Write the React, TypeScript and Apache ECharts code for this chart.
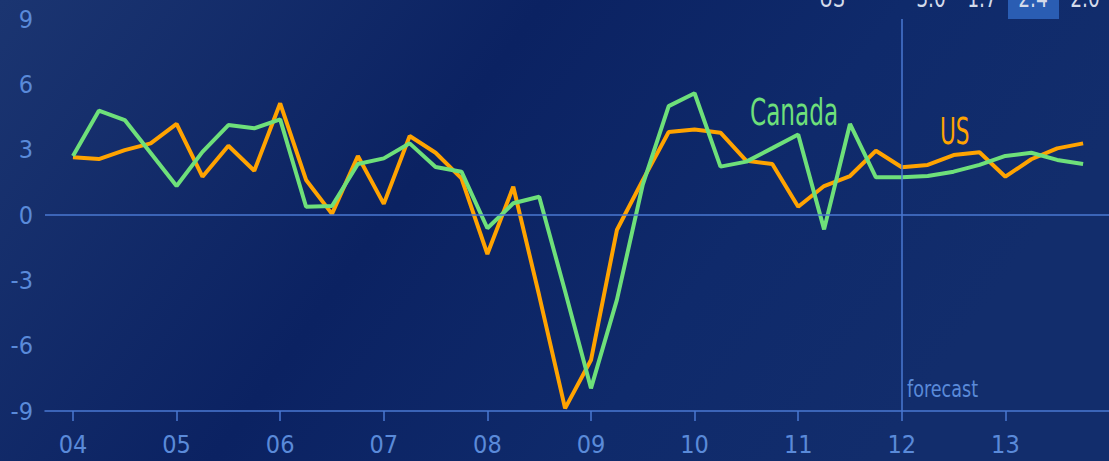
import React, { useEffect, useRef } from "react";
import * as echarts from "echarts";

// Quarterly real GDP growth (% q/q annualized), 2004Q1 .. 2013Q4
const quarters: string[] = [];
for (let y = 2004; y <= 2013; y++) for (let q = 1; q <= 4; q++) quarters.push(`${y}Q${q}`);

const usGrowth = [
  2.65, 2.57, 2.98, 3.29, 4.18, 1.76, 3.18, 2.03, 5.13, 1.61,
  0.05, 2.71, 0.51, 3.63, 2.86, 1.68, -1.79, 1.30, -3.7, -8.88,
  -6.66, -0.69, 1.6, 3.81, 3.93, 3.78, 2.49, 2.34, 0.38, 1.33,
  1.79, 2.95, 2.19, 2.30, 2.75, 2.88, 1.76, 2.56, 3.06, 3.29,
];
const canadaGrowth = [
  2.71, 4.79, 4.36, 2.85, 1.33, 2.9, 4.13, 3.98, 4.39, 0.38,
  0.41, 2.34, 2.6, 3.29, 2.2, 1.99, -0.61, 0.54, 0.84, -3.5,
  -7.96, -3.9, 1.4, 5.0, 5.59, 2.22, 2.45, 3.07, 3.7, -0.66,
  4.18, 1.73, 1.73, 1.79, 1.99, 2.30, 2.71, 2.86, 2.53, 2.34,
];
const yearLabels = ["04", "05", "06", "07", "08", "09", "10", "11", "12", "13"];
const yTicks = [-9, -6, -3, 0, 3, 6, 9];
const forecastStart = "2012Q1";
const tableTexts = ["US", "3.0", "1.7", "2.4", "2.0"];
const seriesNames = ["US", "Canada"];

const FONT = "'Liberation Sans Narrow', 'DejaVu Sans Condensed', 'Roboto', sans-serif";
const AXIS_BLUE = "#4a78d2";
const LABEL_BLUE = "#5a8ad9";
const ORANGE = "#ffa300";
const GREEN = "#6ee07a";

export default function App() {
  const ref = useRef<HTMLDivElement>(null);
  useEffect(() => {
    if (!ref.current) return;
    const chart = echarts.init(ref.current, null, { renderer: "svg" });
    const tickPos = yearLabels.map((_, i) => i * 4);
    const fIdx = quarters.indexOf(forecastStart);
    const tableX = [832, 931, 982, 1033, 1085];
    chart.setOption({
      animation: false,
      backgroundColor: {
        type: "linear", x: 0, y: 0, x2: 1, y2: 0.3,
        colorStops: [
          { offset: 0, color: "#1b3571" },
          { offset: 0.45, color: "#0b2262" },
          { offset: 0.75, color: "#0f2a6b" },
          { offset: 1, color: "#122d6c" },
        ],
      },
      grid: { left: 45, right: 0, top: 19, bottom: 50 },
      xAxis: {
        type: "value",
        min: -1.08,
        max: 40,
        splitLine: { show: false },
        axisLine: { show: true, onZero: false, lineStyle: { color: AXIS_BLUE, width: 1.5 } },
        axisTick: {
          show: true, length: 10, inside: false, customValues: tickPos,
          lineStyle: { color: AXIS_BLUE, width: 1.5 },
        },
        axisLabel: {
          customValues: tickPos,
          formatter: (v: number) => yearLabels[Math.round(v / 4)] ?? "",
          color: LABEL_BLUE, fontFamily: FONT, fontSize: 25, margin: 21,
        },
      },
      yAxis: {
        type: "value",
        min: -9, max: 9, interval: 3,
        splitLine: { show: false },
        axisLine: { show: false },
        axisTick: { show: false },
        axisLabel: {
          color: LABEL_BLUE, fontFamily: FONT, fontSize: 25, margin: 12,
          formatter: (v: number) => (yTicks.includes(v) ? String(v) : ""),
        },
      },
      series: [
        {
          name: seriesNames[0],
          type: "line",
          data: usGrowth.map((v, i) => [i, v]),
          symbol: "none",
          lineStyle: { color: ORANGE, width: 4 },
          z: 3,
          markLine: {
            silent: true, symbol: "none", label: { show: false },
            lineStyle: { color: AXIS_BLUE, width: 1.5, type: "solid" },
            data: [{ yAxis: 0 }, { xAxis: fIdx }],
          },
        },
        {
          name: seriesNames[1],
          type: "line",
          data: canadaGrowth.map((v, i) => [i, v]),
          symbol: "none",
          lineStyle: { color: GREEN, width: 4 },
          z: 4,
        },
      ],
      graphic: [
        {
          type: "text", x: 750, y: 112, scaleX: 0.83, scaleY: 1.2, z: 10,
          style: { text: "Canada", fill: GREEN, font: `31px ${FONT}`, textAlign: "left", textVerticalAlign: "middle" },
        },
        {
          type: "text", x: 940, y: 131, scaleX: 0.86, scaleY: 1.3, z: 10,
          style: { text: "US", fill: ORANGE, font: `28px ${FONT}`, textAlign: "left", textVerticalAlign: "middle" },
        },
        {
          type: "text", x: 907, y: 389, scaleX: 0.85, z: 10,
          style: { text: "forecast", fill: LABEL_BLUE, font: `23px ${FONT}`, textAlign: "left", textVerticalAlign: "middle" },
        },
        {
          type: "rect", shape: { x: 1008, y: -5, width: 51, height: 24 }, z: 9,
          style: { fill: "#2a5db3" },
        },
        ...tableTexts.map((t, i) => ({
          type: "text", x: tableX[i], y: -2, scaleX: 0.8, z: 10,
          style: { text: t, fill: "#d4dbea", font: `26px ${FONT}`, textAlign: "center", textVerticalAlign: "middle" },
        })),
      ],
    });
    return () => chart.dispose();
  }, []);
  return (
    <div
      ref={ref}
      style={{ position: "absolute", left: 0, top: 0, width: 1109, height: 461 }}
    />
  );
}
